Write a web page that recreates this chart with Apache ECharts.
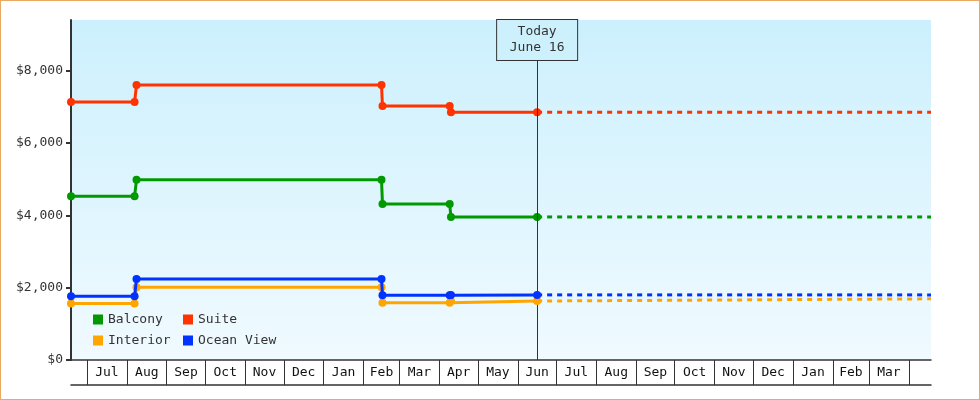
<!DOCTYPE html>
<html>
<head>
<meta charset="utf-8">
<script src="https://cdn.jsdelivr.net/npm/echarts@6.0.0/dist/echarts.min.js"></script>
<style>
  html, body { margin: 0; padding: 0; background: #fff; }
  #wrap { position: relative; width: 980px; height: 400px; }
  #chart { width: 980px; height: 400px; }
  #frame { position: absolute; left: 0; top: 0; width: 980px; height: 400px; box-sizing: border-box; border: 1px solid #e9a963; pointer-events: none; }
</style>
</head>
<body>
<div id="wrap"><div id="chart"></div><div id="frame"></div></div>
<script>
// ---- data ----
const xMin = '2013-06-18 13:30';
const xMax = '2015-04-18 06:00';
const today = '2014-06-16';
const todayLabel = 'Today\nJune 16';

const stepDates = ['2013-06-18 13:30', '2013-08-07', '2013-08-08 12:00', '2014-02-15', '2014-02-15 18:00', '2014-04-09', '2014-04-10', '2014-06-16'];
const balcony  = [4530, 4530, 4980, 4980, 4310, 4310, 3955, 3955];
const suite    = [7130, 7130, 7605, 7605, 7020, 7020, 6850, 6850];
const interior = [1560, 1560, 2010, 2010, 1585, 1585, 1630, 1630];
const ocean    = [1760, 1760, 2240, 2240, 1790, 1790, 1800, 1800];

const forecastDates = ['2014-06-16', '2015-04-18 06:00'];
const balconyForecast  = [3955, 3955];
const suiteForecast    = [6850, 6850];
const interiorForecast = [1630, 1692];
const oceanForecast    = [1800, 1800];

const seriesNames = ['Balcony', 'Suite', 'Interior', 'Ocean View'];
const seriesColors = ['#009a00', '#ff3300', '#ffa500', '#0033ff'];

const yTicks = [0, 2000, 4000, 6000, 8000];
const monthLabels = ['Jul','Aug','Sep','Oct','Nov','Dec','Jan','Feb','Mar','Apr','May','Jun','Jul','Aug','Sep','Oct','Nov','Dec','Jan','Feb','Mar'];
const firstMonth = [2013, 6]; // July 2013 (0-based month)

// ---- helpers ----
function ts(s) { return echarts.time.parse(s).getTime(); }

const monthStarts = [];
for (let i = 0; i <= monthLabels.length; i++) {
  monthStarts.push(new Date(firstMonth[0], firstMonth[1] + i, 1).getTime());
}
const monthMids = [];
for (let i = 0; i < monthLabels.length; i++) {
  monthMids.push((monthStarts[i] + monthStarts[i + 1]) / 2);
}

const FONT = 'DejaVu Sans Mono';
const INK = '#333333';

function zip(xs, ys) { return xs.map((x, i) => [ts(x), ys[i]]); }

const solid = [balcony, suite, interior, ocean];
const dashed = [balconyForecast, suiteForecast, interiorForecast, oceanForecast];

const series = [];
seriesNames.forEach((name, i) => {
  series.push({
    name: name,
    type: 'line',
    data: zip(stepDates, solid[i]),
    symbol: 'circle',
    symbolSize: 8,
    showSymbol: true,
    lineStyle: { width: 3, color: seriesColors[i] },
    itemStyle: { color: seriesColors[i] },
    emphasis: { disabled: true },
    z: 3 + i
  });
});
seriesNames.forEach((name, i) => {
  series.push({
    name: name,
    type: 'line',
    data: zip(forecastDates, dashed[i]),
    showSymbol: false,
    lineStyle: { width: 3, color: seriesColors[i], type: [5, 5] },
    itemStyle: { color: seriesColors[i] },
    emphasis: { disabled: true },
    z: 2
  });
});
series[0].markLine = {
  silent: true,
  symbol: ['none', 'none'],
  animation: false,
  lineStyle: { color: INK, width: 1, type: 'solid' },
  label: {
    show: true,
    position: 'end',
    distance: -40,
    formatter: todayLabel,
    fontFamily: FONT,
    fontSize: 13,
    color: INK,
    lineHeight: 16,
    width: 64,
    align: 'center',
    padding: [4, 8, 4, 8],
    borderColor: INK,
    borderWidth: 1,
    backgroundColor: '#cdf0fd'
  },
  data: [{ xAxis: ts(today) }]
};

const chart = echarts.init(document.getElementById('chart'), null, { renderer: 'canvas' });
chart.setOption({
  animation: false,
  grid: {
    left: 71, right: 49, top: 20, bottom: 40,
    show: true, borderWidth: 0,
    backgroundColor: {
      type: 'linear', x: 0, y: 0, x2: 0, y2: 1,
      colorStops: [{ offset: 0, color: '#ccf0fd' }, { offset: 1, color: '#f0faff' }]
    }
  },
  legend: [
    {
      data: [seriesNames[0], seriesNames[2]],
      orient: 'vertical', left: 93, top: 313, padding: 0,
      itemWidth: 10, itemHeight: 10, itemGap: 8, icon: 'rect',
      selectedMode: false,
      textStyle: { fontFamily: FONT, fontSize: 13, color: INK }
    },
    {
      data: [seriesNames[1], seriesNames[3]],
      orient: 'vertical', left: 183, top: 313, padding: 0,
      itemWidth: 10, itemHeight: 10, itemGap: 8, icon: 'rect',
      selectedMode: false,
      textStyle: { fontFamily: FONT, fontSize: 13, color: INK }
    }
  ],
  xAxis: [
    {
      type: 'value',
      min: ts(xMin), max: ts(xMax),
      axisLine: { show: true, lineStyle: { color: INK, width: 1.5 } },
      axisTick: { show: true, customValues: monthStarts, length: 25, lineStyle: { color: INK, width: 1 } },
      axisLabel: {
        show: true,
        customValues: monthMids,
        margin: 6,
        fontFamily: FONT, fontSize: 13, color: '#111',
        formatter: function (v) {
          const idx = monthMids.indexOf(v);
          return idx >= 0 ? monthLabels[idx] : '';
        }
      },
      splitLine: { show: false }
    },
    {
      type: 'value',
      min: ts(xMin), max: ts(xMax),
      position: 'bottom',
      offset: 25,
      axisLine: { show: true, lineStyle: { color: INK, width: 1.5 } },
      axisTick: { show: false },
      axisLabel: { show: false },
      splitLine: { show: false }
    }
  ],
  yAxis: {
    type: 'value',
    min: 0, max: 9400,
    axisLine: { show: true, lineStyle: { color: INK, width: 2 } },
    axisTick: { show: true, customValues: yTicks, length: 5, lineStyle: { color: INK, width: 2 } },
    axisLabel: {
      customValues: yTicks,
      margin: 8,
      fontFamily: FONT, fontSize: 13, color: INK,
      formatter: function (v) { return '$' + v.toLocaleString('en-US'); }
    },
    splitLine: { show: false }
  },
  series: series
});
</script>
</body>
</html>
